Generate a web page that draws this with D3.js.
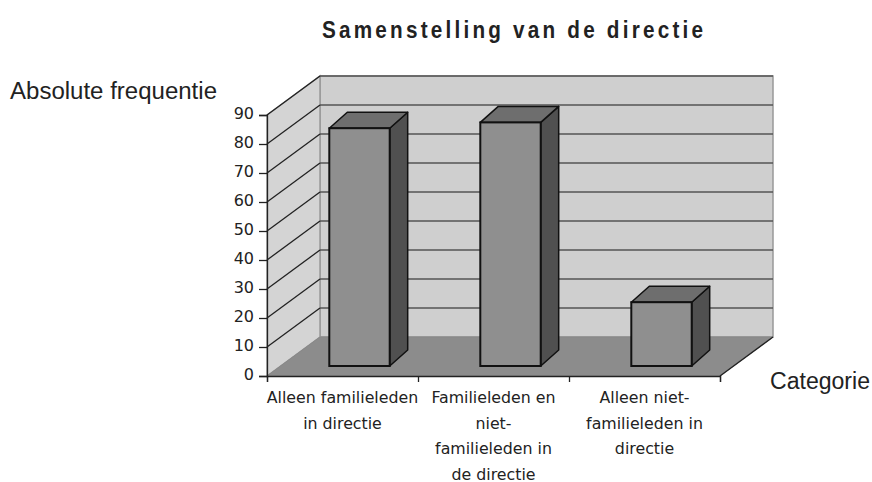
<!DOCTYPE html>
<html><head><meta charset="utf-8">
<script src="https://cdn.jsdelivr.net/npm/d3@7"></script>
<style>body{margin:0;background:#fff}svg{display:block}</style>
</head><body>
<svg id="c" width="872" height="482"></svg>
<script>
const categories = [
  ["Alleen familieleden", "in directie"],
  ["Familieleden en", "niet-", "familieleden in", "de directie"],
  ["Alleen niet-", "familieleden in", "directie"]
];
const values = [82, 84, 22];
const yTicks = [0,10,20,30,40,50,60,70,80,90];
const title = "Samenstelling van de directie";
const yTitle = "Absolute frequentie";
const xTitle = "Categorie";

const svg = d3.select("#c");
const x = d3.scaleBand().domain(d3.range(categories.length)).range([267, 720]);
const y = d3.scaleLinear().domain([0, 90]).range([376, 115]);
const DX = 53, DY = -39;           // wall depth
const BF = {dx: 17, dy: -10};      // bar front offset
const BD = {dx: 18, dy: -16};      // bar depth
const barW = x.bandwidth() * 0.4;

const poly = pts => pts.map(p => p.join(",")).join(" ");
const x0 = x.range()[0], x1 = x.range()[1];

// back wall
svg.append("polygon").attr("points", poly([[x0+DX, y(90)+DY],[x1+DX, y(90)+DY],[x1+DX, y(0)+DY],[x0+DX, y(0)+DY]]))
  .attr("fill", "#cfcfcf").attr("stroke", "#999").attr("stroke-width", 1.5);
// left wall
svg.append("polygon").attr("points", poly([[x0, y(90)],[x0+DX, y(90)+DY],[x0+DX, y(0)+DY],[x0, y(0)]]))
  .attr("fill", "#d4d4d4").attr("stroke", "#999").attr("stroke-width", 1.5);
// floor
svg.append("polygon").attr("points", poly([[x0, y(0)],[x1, y(0)],[x1+DX, y(0)+DY],[x0+DX, y(0)+DY]]))
  .attr("fill", "#8c8c8c").attr("stroke", "#888").attr("stroke-width", 1);

// gridlines
const grid = yTicks.filter(v => v > 0);
svg.append("g").selectAll("line.bk").data(grid).join("line")
  .attr("x1", x0+DX).attr("x2", x1+DX).attr("y1", d => y(d)+DY).attr("y2", d => y(d)+DY)
  .attr("stroke", "#555").attr("stroke-width", 1.3);
svg.append("g").selectAll("line.lw").data(grid).join("line")
  .attr("x1", x0).attr("x2", x0+DX).attr("y1", d => y(d)).attr("y2", d => y(d)+DY)
  .attr("stroke", "#222").attr("stroke-width", 1.3);

// floor right edge
svg.append("line").attr("x1", x1).attr("y1", y(0)).attr("x2", x1+DX).attr("y2", y(0)+DY)
  .attr("stroke", "#222").attr("stroke-width", 1.3);

// bars
const bars = svg.append("g").selectAll("g").data(values).join("g");
bars.each(function(v, i) {
  const g = d3.select(this);
  const l = x(i) + (x.bandwidth() - barW) / 2 + BF.dx;
  const r = l + barW;
  const b = y(0) + BF.dy;
  const t = b - (y(0) - y(v));
  g.append("polygon").attr("points", poly([[r, t],[r+BD.dx, t+BD.dy],[r+BD.dx, b+BD.dy],[r, b]]))
    .attr("fill", "#505050").attr("stroke", "#111").attr("stroke-width", 1.5).attr("stroke-linejoin", "round");
  g.append("polygon").attr("points", poly([[l, t],[l+BD.dx, t+BD.dy],[r+BD.dx, t+BD.dy],[r, t]]))
    .attr("fill", "#6e6e6e").attr("stroke", "#111").attr("stroke-width", 1.5).attr("stroke-linejoin", "round");
  g.append("rect").attr("x", l).attr("y", t).attr("width", barW).attr("height", b - t)
    .attr("fill", "#8f8f8f").attr("stroke", "#111").attr("stroke-width", 2);
});

// axes
const tickFont = "DejaVu Sans, sans-serif";
const yAxis = svg.append("g").attr("transform", `translate(${x0},0)`)
  .call(d3.axisLeft(y).tickValues(yTicks).tickSize(8).tickPadding(5));
yAxis.select(".domain").attr("stroke", "#222").attr("stroke-width", 1.3);
yAxis.selectAll(".tick line").attr("stroke", "#222").attr("stroke-width", 1.3);
yAxis.selectAll("text").attr("font-family", tickFont).attr("font-size", 16).attr("fill", "#222").attr("dy", "0.2em");

const xAxis = svg.append("g").attr("transform", `translate(0,${y(0)})`)
  .call(d3.axisBottom(d3.scaleLinear().domain([0, 3]).range([x0, x1])).tickValues([0,1,2,3]).tickSize(6).tickFormat(""));
xAxis.select(".domain").attr("stroke", "#222").attr("stroke-width", 1.3);
xAxis.selectAll(".tick line").attr("stroke", "#222").attr("stroke-width", 1.3);

// category labels
const lab = svg.append("g").selectAll("text").data(categories).join("text")
  .attr("x", (d, i) => x(i) + x.bandwidth()/2)
  .attr("y", 403)
  .attr("text-anchor", "middle").attr("font-family", tickFont).attr("font-size", 15.8).attr("fill", "#222");
lab.selectAll("tspan").data(d => d).join("tspan")
  .attr("x", function() { return this.parentNode.getAttribute("x"); })
  .attr("dy", (d, j) => j === 0 ? 0 : 25.5).text(d => d);

// titles
const tcx = 512.5, sx = 0.9;
svg.append("text").attr("x", 0).attr("y", 0)
  .attr("transform", `translate(${tcx},38) scale(${sx},1)`)
  .attr("text-anchor", "middle")
  .attr("font-family", "Liberation Sans, Arial, sans-serif").attr("font-weight", "bold")
  .attr("font-size", 23).attr("textLength", 381 / sx).attr("lengthAdjust", "spacing")
  .attr("fill", "#222").text(title);
svg.append("text").attr("x", 10).attr("y", 99)
  .attr("font-family", "Liberation Sans, Arial, sans-serif").attr("font-size", 23)
  .attr("textLength", 207).attr("lengthAdjust", "spacingAndGlyphs").attr("fill", "#222").text(yTitle);
svg.append("text").attr("x", 770).attr("y", 389)
  .attr("font-family", "Liberation Sans, Arial, sans-serif").attr("font-size", 23)
  .attr("textLength", 100).attr("lengthAdjust", "spacingAndGlyphs").attr("fill", "#222").text(xTitle);
</script>
</body></html>
